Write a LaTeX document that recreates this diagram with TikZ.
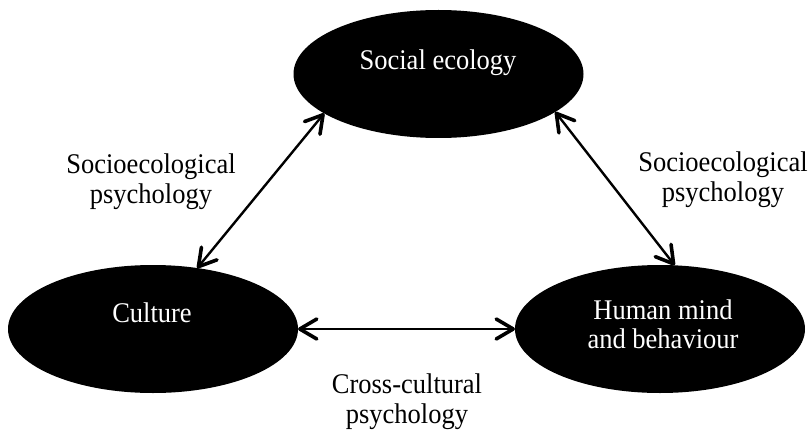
\documentclass[tikz,border=0pt]{standalone}
\usepackage{fontspec}
\setmainfont{Liberation Serif}[FakeStretch=0.93]
\usetikzlibrary{shapes.geometric,arrows.meta}
\tikzset{
  blob/.style={ellipse, fill=black, draw=none, inner sep=0pt, outer sep=0pt,
    minimum width=290pt, minimum height=128pt},
  intext/.style={text=white, font=\fontsize{28.5}{28.5}\selectfont, align=center, inner sep=0pt, anchor=base},
  lbl/.style={text=black, font=\fontsize{28.5}{29.5}\selectfont, align=center, inner sep=0pt, anchor=base},
  link/.style={line width=2.4pt,
    {Straight Barb[length=17pt,width=20pt,round,line width=3.6pt]}-{Straight Barb[length=17pt,width=20pt,round,line width=3.6pt]}}
}
\begin{document}
\begin{tikzpicture}[x=1pt,y=-1pt]
\useasboundingbox[fill=white] (0,0) rectangle (811,433);
\node[blob] (soc) at (438.5,74) {};
\node[blob] (cul) at (153,329) {};
\node[blob] (hum) at (660,329) {};
\node[intext] (soct) at (438,70) {Social ecology};
\node[intext] (cult) at (152,322) {Culture};
\node[intext] (humt) at (663,348) {Human mind\\and behaviour};
\node[lbl] (l1) at (151,203) {Socioecological\\psychology};
\node[lbl] (l2) at (723,201) {Socioecological\\psychology};
\node[lbl] (l3) at (407,423) {Cross-cultural\\psychology};
\draw[link] (soc.-161.8) -- (cul.54.5);
\draw[link] (soc.-18.1) -- (hum.77.2);
\draw[link] (cul.east) -- (hum.west);
\end{tikzpicture}
\end{document}
